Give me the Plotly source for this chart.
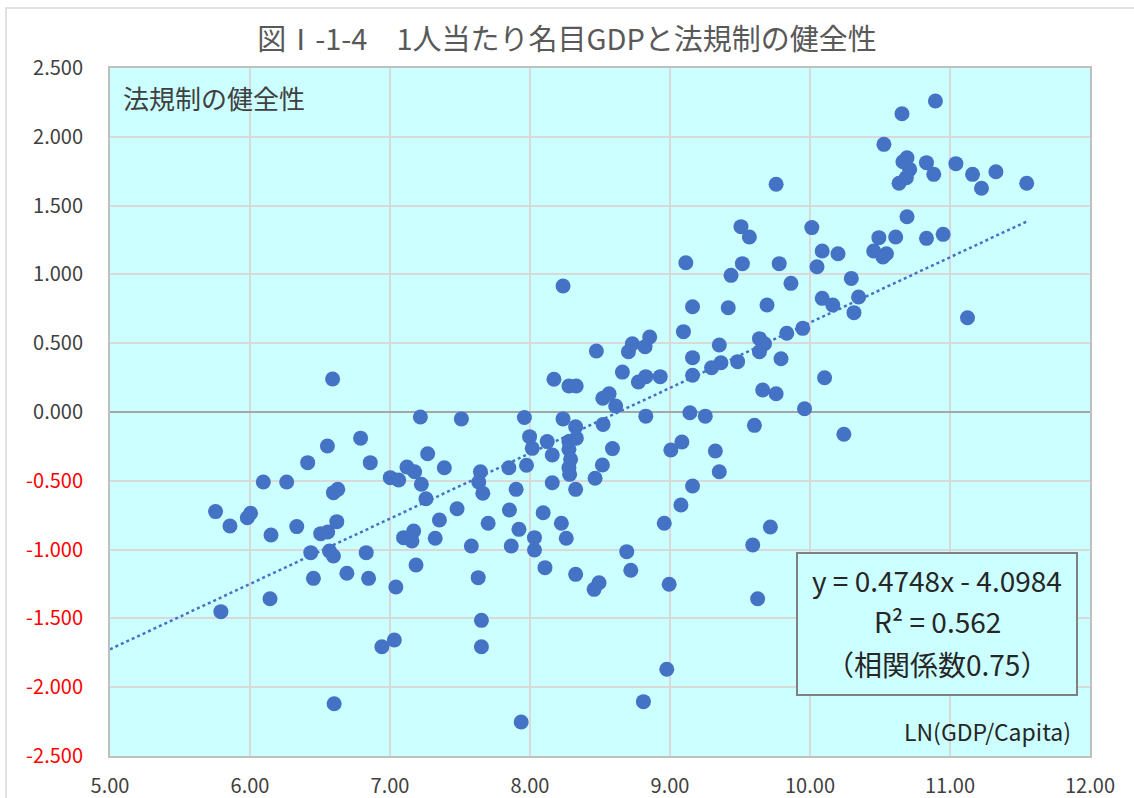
import plotly.graph_objects as go

# LN(GDP/Capita)
gdp_ln = [
    6.59, 8.236, 8.474, 8.171, 8.278, 8.33, 8.52, 7.217, 7.51, 7.96, 8.236,
    9.758, 9.507, 9.567, 10.013, 10.087, 10.2, 9.113, 9.517, 9.78, 10.05,
    9.436, 9.864, 9.161, 9.416, 9.693, 10.087, 10.163, 9.096, 9.948, 9.834,
    8.855, 8.731, 8.822, 8.703, 9.639, 9.675, 9.639, 9.352, 9.161, 9.793,
    9.364, 9.297, 9.483, 8.66, 8.827, 8.774, 8.93, 9.161, 10.104, 9.662,
    9.758, 8.565, 8.612, 9.961, 8.827, 9.142, 9.252,
    10.896, 10.657, 10.528, 10.693, 10.664, 10.832, 11.042, 10.712, 10.884,
    11.161, 11.328, 10.688, 10.636, 11.225, 11.548, 10.693, 10.492, 10.612,
    10.832, 10.951, 10.455, 10.546, 10.521, 10.295, 10.347, 10.314, 11.125,
    6.553, 6.79, 6.412, 6.095, 6.262, 5.754, 5.857, 5.981, 6.004, 6.15,
    6.334, 6.596, 6.627, 6.62, 6.505, 6.555, 6.434, 6.568, 6.596, 6.453,
    6.692, 6.143, 5.792, 6.601,
    8.326, 8.331, 8.278, 8.123, 7.997, 8.016, 8.159, 8.278, 8.29, 8.278,
    8.283, 7.975, 7.849, 7.646, 7.634, 7.663, 7.901, 7.853, 8.159, 8.326,
    8.465, 8.517, 7.002, 7.062, 7.121, 7.176, 7.269, 7.388, 6.859, 7.224,
    7.257, 7.479, 7.353, 7.701, 7.921, 8.094, 8.224, 8.259, 8.032, 8.032,
    7.866, 7.581, 7.323, 7.169, 7.097, 7.157, 7.133, 6.83, 6.847, 7.186,
    7.042, 7.63, 8.107, 8.326, 7.653, 6.942, 7.031, 7.653, 7.937,
    9.603, 8.522, 8.589, 9.006, 9.085, 9.324, 9.352, 9.161, 9.078, 8.959,
    9.717, 9.591, 8.691, 8.72, 8.493, 8.458, 8.994, 9.626, 8.977, 8.81,
    10.242,
]

# 法規制の健全性
rule_quality = [
    0.24, 0.916, 0.443, 0.238, 0.189, 0.189, 0.10, -0.036, -0.05, -0.04, -0.05,
    1.655, 1.347, 1.272, 1.34, 1.17, 1.15, 1.085, 1.078, 1.078, 1.056,
    0.993, 0.935, 0.765, 0.758, 0.778, 0.826, 0.778, 0.584, 0.608, 0.572,
    0.545, 0.496, 0.475, 0.438, 0.533, 0.496, 0.438, 0.487, 0.395, 0.387,
    0.358, 0.322, 0.366, 0.29, 0.257, 0.218, 0.257, 0.267, 0.249, 0.16,
    0.133, 0.133, 0.044, 0.024, -0.03, -0.005, -0.03,
    2.26, 2.168, 1.945, 1.848, 1.819, 1.812, 1.805, 1.763, 1.727,
    1.727, 1.746, 1.703, 1.662, 1.626, 1.662, 1.419, 1.267, 1.272,
    1.262, 1.291, 1.17, 1.15, 1.126, 0.971, 0.836, 0.722, 0.685,
    -0.247, -0.19, -0.368, -0.509, -0.509, -0.724, -0.828, -0.768, -0.736, -0.894,
    -0.833, -0.586, -0.562, -0.797, -0.884, -0.872, -1.022, -1.01, -1.047, -1.209,
    -1.172, -1.357, -1.451, -2.12,
    -0.107, -0.19, -0.215, -0.215, -0.179, -0.264, -0.312, -0.271, -0.344, -0.405,
    -0.453, -0.387, -0.405, -0.434, -0.509, -0.591, -0.562, -0.712, -0.514, -0.562,
    -0.482, -0.385, -0.477, -0.494, -0.4, -0.434, -0.303, -0.405, -0.368, -0.525,
    -0.63, -0.703, -0.785, -0.809, -0.853, -0.732, -0.809, -0.918, -0.913, -1.003,
    -0.974, -0.974, -0.918, -0.865, -0.913, -0.937, -0.916, -1.022, -1.209, -1.112,
    -1.272, -1.204, -1.131, -1.18, -1.514, -1.706, -1.657, -1.706, -2.253,
    -0.097, -0.09, -0.266, -0.276, -0.218, -0.283, -0.434, -0.538, -0.676, -0.809,
    -0.836, -0.967, -1.015, -1.15, -1.241, -1.289, -1.252, -1.357, -1.87, -2.105,
    -0.162,
]

slope = 0.4748
intercept = -4.0984
trend_x = [5.0, max(gdp_ln)]
trend_y = [slope * v + intercept for v in trend_x]

y_ticks = [2.5, 2.0, 1.5, 1.0, 0.5, 0.0, -0.5, -1.0, -1.5, -2.0, -2.5]
y_ticktext = [
    (f'<span style="color:#FF0000">{v:.3f}</span>' if v < 0 else f"{v:.3f}")
    for v in y_ticks
]
x_ticks = [5, 6, 7, 8, 9, 10, 11, 12]
x_ticktext = [f"{v:.2f}" for v in x_ticks]

title_text = "図Ⅰ-1-4　1人当たり名目GDPと法規制の健全性"
y_label = "法規制の健全性"
x_label = "LN(GDP/Capita)"
eq_lines = ["y = 0.4748x - 4.0984", "R² = 0.562", "（相関係数0.75）"]

FONT = "Noto Sans CJK JP"
CYAN = "#CCFFFF"
BLUE = "#4472C4"

fig = go.Figure()
fig.add_trace(go.Scatter(
    x=trend_x, y=trend_y, mode="lines",
    line=dict(color=BLUE, width=2.5, dash="dot"),
    hoverinfo="skip", showlegend=False,
))
fig.add_trace(go.Scatter(
    x=gdp_ln, y=rule_quality, mode="markers",
    marker=dict(color=BLUE, size=15, line=dict(width=0)),
    showlegend=False,
))

W, H = 1134, 798
L, R, T, B = 110, 44, 68, 42
pw, ph = W - L - R, H - T - B


def px2paper(px, py):
    return (px - L) / pw, 1 - (py - T) / ph


shapes = []
# label backgrounds (hide gridlines)
x0, y0 = px2paper(112, 69)
x1, y1 = px2paper(318, 126)
shapes.append(dict(type="rect", xref="paper", yref="paper", x0=x0, y0=y1, x1=x1, y1=y0,
                   fillcolor=CYAN, line=dict(width=0), layer="between"))
x0, y0 = px2paper(880, 706)
x1, y1 = px2paper(1088, 754)
shapes.append(dict(type="rect", xref="paper", yref="paper", x0=x0, y0=y1, x1=x1, y1=y0,
                   fillcolor=CYAN, line=dict(width=0), layer="between"))
# equation box
x0, y0 = px2paper(797, 553)
x1, y1 = px2paper(1077, 695)
shapes.append(dict(type="rect", xref="paper", yref="paper", x0=x0, y0=y1, x1=x1, y1=y0,
                   fillcolor=CYAN, line=dict(color="#808080", width=2), layer="above"))
# outer chart border
shapes.append(dict(type="rect", xref="paper", yref="paper",
                   x0=(6 - L) / pw, x1=(W + 20 - L) / pw,
                   y0=1 - (H + 20 - T) / ph, y1=1 - (8 - T) / ph,
                   line=dict(color="#D9D9D9", width=1.5), fillcolor="rgba(0,0,0,0)",
                   layer="below"))

annotations = []
ax, ay = px2paper(121, 98)
annotations.append(dict(text=y_label, xref="paper", yref="paper", x=ax, y=ay,
                        xanchor="left", yanchor="middle", showarrow=False,
                        font=dict(family=FONT, size=26, color="#404040")))
ax, ay = px2paper(1073, 731)
annotations.append(dict(text=x_label, xref="paper", yref="paper", x=ax, y=ay,
                        xanchor="right", yanchor="middle", showarrow=False,
                        font=dict(family=FONT, size=23, color="#262626")))
for line_text, py in zip(eq_lines, [580, 621, 664]):
    ax, ay = px2paper(937, py)
    annotations.append(dict(text=line_text, xref="paper", yref="paper", x=ax, y=ay,
                            xanchor="center", yanchor="middle", showarrow=False,
                            font=dict(family=FONT, size=28, color="#262626")))

fig.update_layout(
    width=W, height=H,
    margin=dict(l=L, r=R, t=T, b=B, autoexpand=False),
    paper_bgcolor="white",
    plot_bgcolor=CYAN,
    title=dict(text=title_text, x=0.5, xref="container", xanchor="center",
               y=1 - 40 / H, yanchor="middle",
               font=dict(family=FONT, size=29, color="#595959")),
    font=dict(family=FONT, color="#404040"),
    shapes=shapes,
    annotations=annotations,
    xaxis=dict(range=[5, 12], tickvals=x_ticks, ticktext=x_ticktext,
               showgrid=True, gridcolor="#D9D9D9", gridwidth=2,
               zeroline=False, showline=True, linecolor="#BFBFBF", linewidth=2,
               mirror=True, ticks="", tickfont=dict(family=FONT, size=20, color="#404040"),
               ticklabelstandoff=11, automargin=False, fixedrange=True),
    yaxis=dict(range=[-2.5, 2.5], tickvals=y_ticks, ticktext=y_ticktext,
               showgrid=True, gridcolor="#D9D9D9", gridwidth=2,
               zeroline=True, zerolinecolor="#A6A6A6", zerolinewidth=2,
               showline=True, linecolor="#BFBFBF", linewidth=2, mirror=True,
               ticks="", tickfont=dict(family=FONT, size=20, color="#404040"),
               ticklabelstandoff=21, automargin=False, fixedrange=True),
)

fig.write_html("out.html")
